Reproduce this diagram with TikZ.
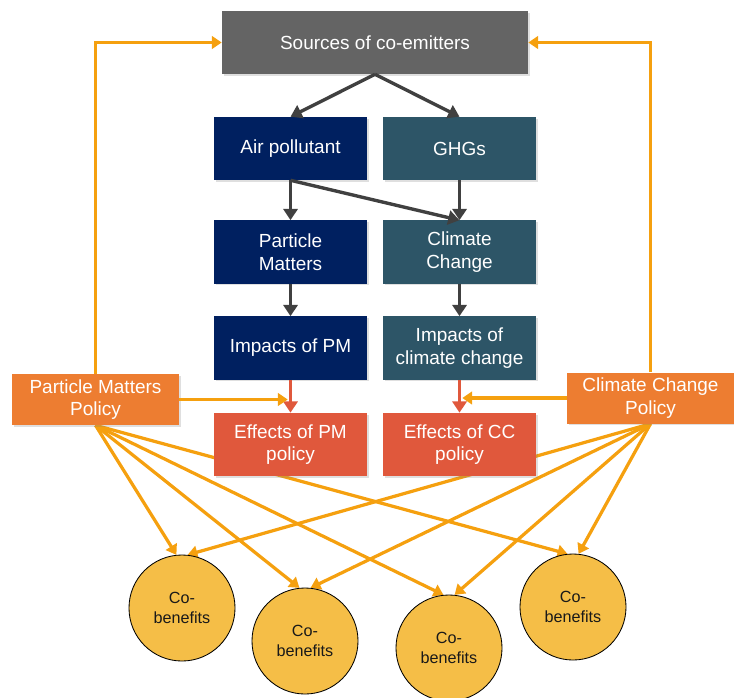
\documentclass[tikz,border=0pt]{standalone}
\usepackage{fontspec}
\setmainfont{Liberation Sans}
\usetikzlibrary{arrows.meta,shadows,backgrounds}
\definecolor{srcgray}{HTML}{646464}
\definecolor{apnavy}{HTML}{002060}
\definecolor{ghgteal}{HTML}{2D5567}
\definecolor{effred}{HTML}{E0583C}
\definecolor{polorange}{HTML}{ED7D31}
\definecolor{amber}{HTML}{F5A00F}
\definecolor{cobfill}{HTML}{F5BE47}
\definecolor{ink}{HTML}{404040}

\begin{document}
\begin{tikzpicture}[x=0.025cm,y=-0.025cm,font=\fontsize{13.5}{16}\selectfont,
  blk/.style={align=center,text=white,inner sep=2pt,minimum width=3.825cm,minimum height=1.575cm,
    drop shadow={shadow xshift=1.2pt,shadow yshift=-1.2pt,opacity=0.25}},
  pol/.style={blk,fill=polorange,minimum width=4.175cm,minimum height=1.275cm},
  cob/.style={circle,draw=black,line width=0.6pt,fill=cobfill,minimum size=2.65cm,inner sep=0pt,
    align=center,text=black!90,font=\fontsize{11.5}{14}\selectfont},
  darrow/.style={-{Triangle[length=8pt,width=10pt]},line width=2.4pt,ink},
  rarrow/.style={-{Triangle[length=8pt,width=10pt]},line width=2.4pt,effred},
  oarrow/.style={-{Triangle[length=7pt,width=9pt]},line width=2.3pt,amber}]
  \useasboundingbox (0,0) rectangle (734,697);

  % ===== emitters and impacts =====
  \node[blk,fill=srcgray,minimum width=7.65cm] (src) at (375,42.5) {Sources of co-emitters};
  \node[blk,fill=apnavy] (air) at (290.5,148.5) {Air pollutant};
  \node[blk,fill=ghgteal] (ghg) at (459.5,148.5) {GHGs};
  \node[blk,fill=apnavy] (pm) at (290.5,252) {Particle\\Matters};
  \node[blk,fill=ghgteal] (cc) at (459.5,252) {Climate\\Change};
  \node[blk,fill=apnavy] (impm) at (290.5,348) {Impacts of PM};
  \node[blk,fill=ghgteal] (imcc) at (459.5,348) {Impacts of\\climate change};
  \node[blk,fill=effred] (effpm) at (290.5,444.5) {Effects of PM\\policy};
  \node[blk,fill=effred] (effcc) at (459.5,444.5) {Effects of CC\\policy};

  % ===== policies =====
  \node[pol] (pmpol) at (95.5,399.5) {Particle Matters\\Policy};
  \node[pol] (ccpol) at (650.5,398) {Climate Change\\Policy};

  % ===== co-benefits =====
  \node[cob] (cb1) at (182,608) {Co-\\benefits};
  \node[cob] (cb2) at (305,641) {Co-\\benefits};
  \node[cob] (cb3) at (449,648) {Co-\\benefits};
  \node[cob] (cb4) at (573,607) {Co-\\benefits};

  % ===== causal chain =====
  \draw[darrow] (src.south) -- (air.north);
  \draw[darrow] (src.south) -- (ghg.north);
  \draw[darrow] (air.south) -- (pm.north);
  \draw[darrow] (air.south) -- (cc.north);
  \draw[darrow] (ghg.south) -- (cc.north);
  \draw[darrow] (pm.south) -- (impm.north);
  \draw[darrow] (cc.south) -- (imcc.north);
  \draw[rarrow] (impm.south) -- (effpm.north);
  \draw[rarrow] (imcc.south) -- (effcc.north);

  % ===== policy links =====
  \draw[oarrow] (pmpol.north) -- (pmpol.north |- src.west) -- (src.west);
  \draw[oarrow] (ccpol.north) -- (ccpol.north |- src.east) -- (src.east);
  \draw[oarrow] (pmpol.east) -- ([xshift=-2pt]pmpol.east -| impm.south);
  \draw[oarrow] (ccpol.west) -- ([xshift=2pt]ccpol.west -| imcc.south);
  \begin{scope}[on background layer]
    \foreach \c in {cb1,cb2,cb3,cb4} {
      \draw[oarrow] (pmpol.south) -- (\c.96);
      \draw[oarrow] (ccpol.south) -- (\c.84);
    }
  \end{scope}
\end{tikzpicture}
\end{document}
